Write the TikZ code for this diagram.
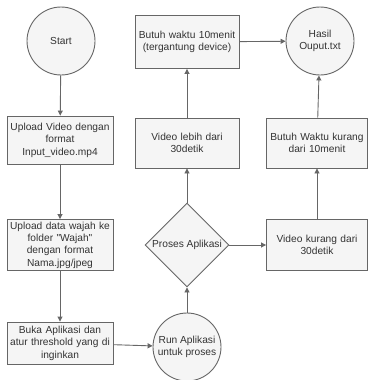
\documentclass[tikz,border=0pt]{standalone}
\usepackage{fontspec}
\setmainfont{Liberation Sans}
\usetikzlibrary{shapes.geometric,arrows.meta}
\definecolor{bfill}{HTML}{F5F5F5}
\definecolor{bline}{HTML}{666666}
\definecolor{btext}{HTML}{333333}
\tikzset{
  base/.style={draw=bline,fill=bfill,line width=0.9pt,text=btext,font=\fontsize{10.2}{12.4}\selectfont,align=center,inner sep=0pt},
  boxa/.style={base,rectangle,minimum width=106pt,minimum height=48pt,text width=104pt},
  circ/.style={base,circle,minimum size=68pt},
  dia/.style={base,diamond,minimum width=84pt,minimum height=84pt},
  conn/.style={draw=bline,line width=0.9pt,-{Triangle[length=5pt,width=5pt]}}
}
\begin{document}
\begin{tikzpicture}[x=1pt,y=-1pt]
\useasboundingbox (0,0) rectangle (368,380);
\node[circ] (start) at (61,41) {Start};
\node[boxa] (up) at (60,140) {Upload Video dengan\\format\\Input\_video.mp4};
\node[boxa,minimum height=51pt] (wajah) at (60,245) {Upload data wajah ke\\folder \textquotedbl Wajah\textquotedbl\\dengan format\\Nama.jpg/jpeg};
\node[boxa,minimum height=42pt] (buka) at (60,343) {Buka Aplikasi dan\\atur threshold yang di\\inginkan};
\node[circ] (run) at (187,347) {Run Aplikasi\\untuk proses};
\node[dia] (proses) at (187,245) {Proses Aplikasi};
\node[boxa,minimum width=101pt,text width=99pt,minimum height=51pt] (kurang) at (317,245) {Video kurang dari\\30detik};
\node[boxa,minimum width=101pt,text width=99pt,minimum height=50pt] (bkurang) at (317,143) {Butuh Waktu kurang\\dari 10menit};
\node[circ] (hasil) at (320,41) {Hasil\\Ouput.txt};
\node[boxa,minimum width=104pt,text width=102pt,minimum height=53pt] (b10) at (187,42) {Butuh waktu 10menit\\(tergantung device)};
\node[boxa,minimum width=104pt,text width=102pt,minimum height=50pt] (lebih) at (187,143) {Video lebih dari\\30detik};
\draw[conn] (start) -- (up);
\draw[conn] (up) -- (wajah);
\draw[conn] (wajah) -- (buka);
\draw[conn] (buka) -- (run);
\draw[conn] (run) -- (proses);
\draw[conn] (proses) -- (lebih);
\draw[conn] (proses) -- (kurang);
\draw[conn] (lebih) -- (b10);
\draw[conn] (kurang) -- (bkurang);
\draw[conn] (bkurang) -- (hasil);
\draw[conn] (b10) -- (hasil);
\end{tikzpicture}
\end{document}
